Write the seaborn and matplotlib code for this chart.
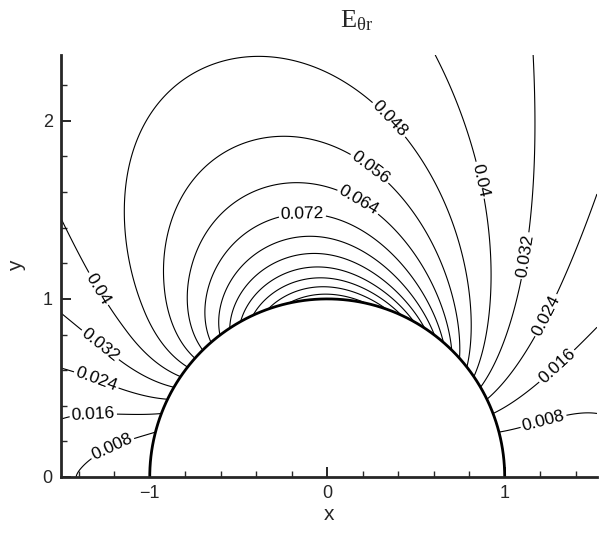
import numpy as np
import matplotlib
matplotlib.use("Agg")
import matplotlib.pyplot as plt
from matplotlib.ticker import MultipleLocator
import seaborn as sns

# contour levels drawn in the figure (0.008 step, wall value ~0.126)
levels = [0.008, 0.016, 0.024, 0.032, 0.040, 0.048, 0.056, 0.064,
          0.072, 0.080, 0.088, 0.096, 0.104, 0.112, 0.120]

# labelled lines and where their labels sit
label_levels = [0.008, 0.016, 0.024, 0.032, 0.040,
                0.048, 0.056, 0.064, 0.072,
                0.040, 0.032, 0.024, 0.016, 0.008]
label_x = [-1.24, -1.32, -1.28, -1.24, -1.25,
           0.32, 0.23, 0.17, -0.14,
           0.83, 1.07, 1.19, 1.25, 1.20]
label_y = [0.23, 0.42, 0.60, 0.79, 1.08,
           1.98, 1.72, 1.54, 1.48,
           1.66, 1.25, 0.93, 0.67, 0.38]

# fitted coefficients of the E_theta_r field around the unit cylinder
radial_coef = [0.0312, 0.0866, 0.0082]   # a + b/r^2 + d/r^8
far_power, near_power = 1.48, 2.0        # angular exponent far / at wall
skew_down, skew_up = 0.344, 0.37         # lean of the lobes, rear / front side
axis_amp = 0.005                         # front stagnation line
upstream_amp = 0.0085                    # upstream side, near axis
upstream_far = 0.010                     # upstream side, far field
downstream_amp = 0.013                   # rear axis
wall_layer = 0.15

x_lim = (-1.5, 1.52)
y_lim = (0.0, 2.37)

# ---- field on a grid ----
xg = np.linspace(*x_lim, 700)
yg = np.linspace(*y_lim, 560)
X, Y = np.meshgrid(xg, yg)
R = np.hypot(X, Y)
TH = np.arctan2(Y, X)
s, c = np.sin(TH), np.cos(TH)
a, b, d = radial_coef
G = a + b / R**2 + d / R**8
Rw = np.maximum(R, 1)
blend = np.exp(-(Rw - 1) / wall_layer)
p = far_power + (near_power - far_power) * blend
w_up = 0.5 * (1 - np.tanh(c / 0.25))
k = skew_down * (1 - blend) * (1 - w_up) + skew_up * (1 - np.exp(-(Rw - 1) / 0.6)) * w_up
up = np.clip(-c, 0, None)
down = np.clip(c, 0, None)
F = (G * s**p * np.exp(-k * c)
     + axis_amp * (1 - 1 / Rw**4) * up**23
     + upstream_amp * (1 - np.exp(-((Rw - 1) / 0.5)**2)) * up**8
     + upstream_far * np.clip(R - 1.4, 0, None)**1.5 * up**3
     + downstream_amp * (Rw - 1)**2 * down**16)
F = np.ma.masked_where(R < 1.0, F)

# ---- plot ----
sns.set_style("ticks")
plt.rcParams['font.family'] = ['Liberation Sans', 'DejaVu Sans']
plt.rcParams['mathtext.fontset'] = 'custom'
plt.rcParams['mathtext.rm'] = 'Liberation Serif'

fig = plt.figure(figsize=(6.07, 5.47), dpi=100)
ax = fig.add_axes([0.1005, 0.128, 0.883, 0.7715])

line_kw = dict(colors='black', linewidths=0.8)
plain = [lev for lev in levels if lev not in label_levels]
ax.contour(X, Y, F, levels=plain, **line_kw)
for lev in sorted(set(label_levels)):
    pts = [(lx, ly) for L, lx, ly in zip(label_levels, label_x, label_y) if L == lev]
    cs = ax.contour(X, Y, F, levels=[lev], **line_kw)
    ax.clabel(cs, manual=pts, inline=True, inline_spacing=2,
              fontsize=12.5, fmt=lambda v: f"{v:g}")

th = np.linspace(0, np.pi, 300)
ax.plot(np.cos(th), np.sin(th), color='black', lw=2.0, solid_capstyle='butt')

ax.set_xlim(*x_lim)
ax.set_ylim(*y_lim)
ax.xaxis.set_major_locator(MultipleLocator(1))
ax.yaxis.set_major_locator(MultipleLocator(1))
ax.xaxis.set_minor_locator(MultipleLocator(0.2))
ax.yaxis.set_minor_locator(MultipleLocator(0.2))
ax.tick_params(which='major', direction='in', length=7, width=1.4, labelsize=13, pad=6)
ax.tick_params(which='minor', direction='in', length=4, width=1.0)
sns.despine(ax=ax)
for sp in ('left', 'bottom'):
    ax.spines[sp].set_linewidth(2.0)

ax.set_xlabel('x', fontsize=15, labelpad=2)
ax.set_ylabel('y', fontsize=15, labelpad=12)
fig.text(0.588, 0.963, r'$\mathrm{E_{θr}}$', fontsize=19,
         ha='center', va='center')

fig.savefig('out.png', dpi=100)
